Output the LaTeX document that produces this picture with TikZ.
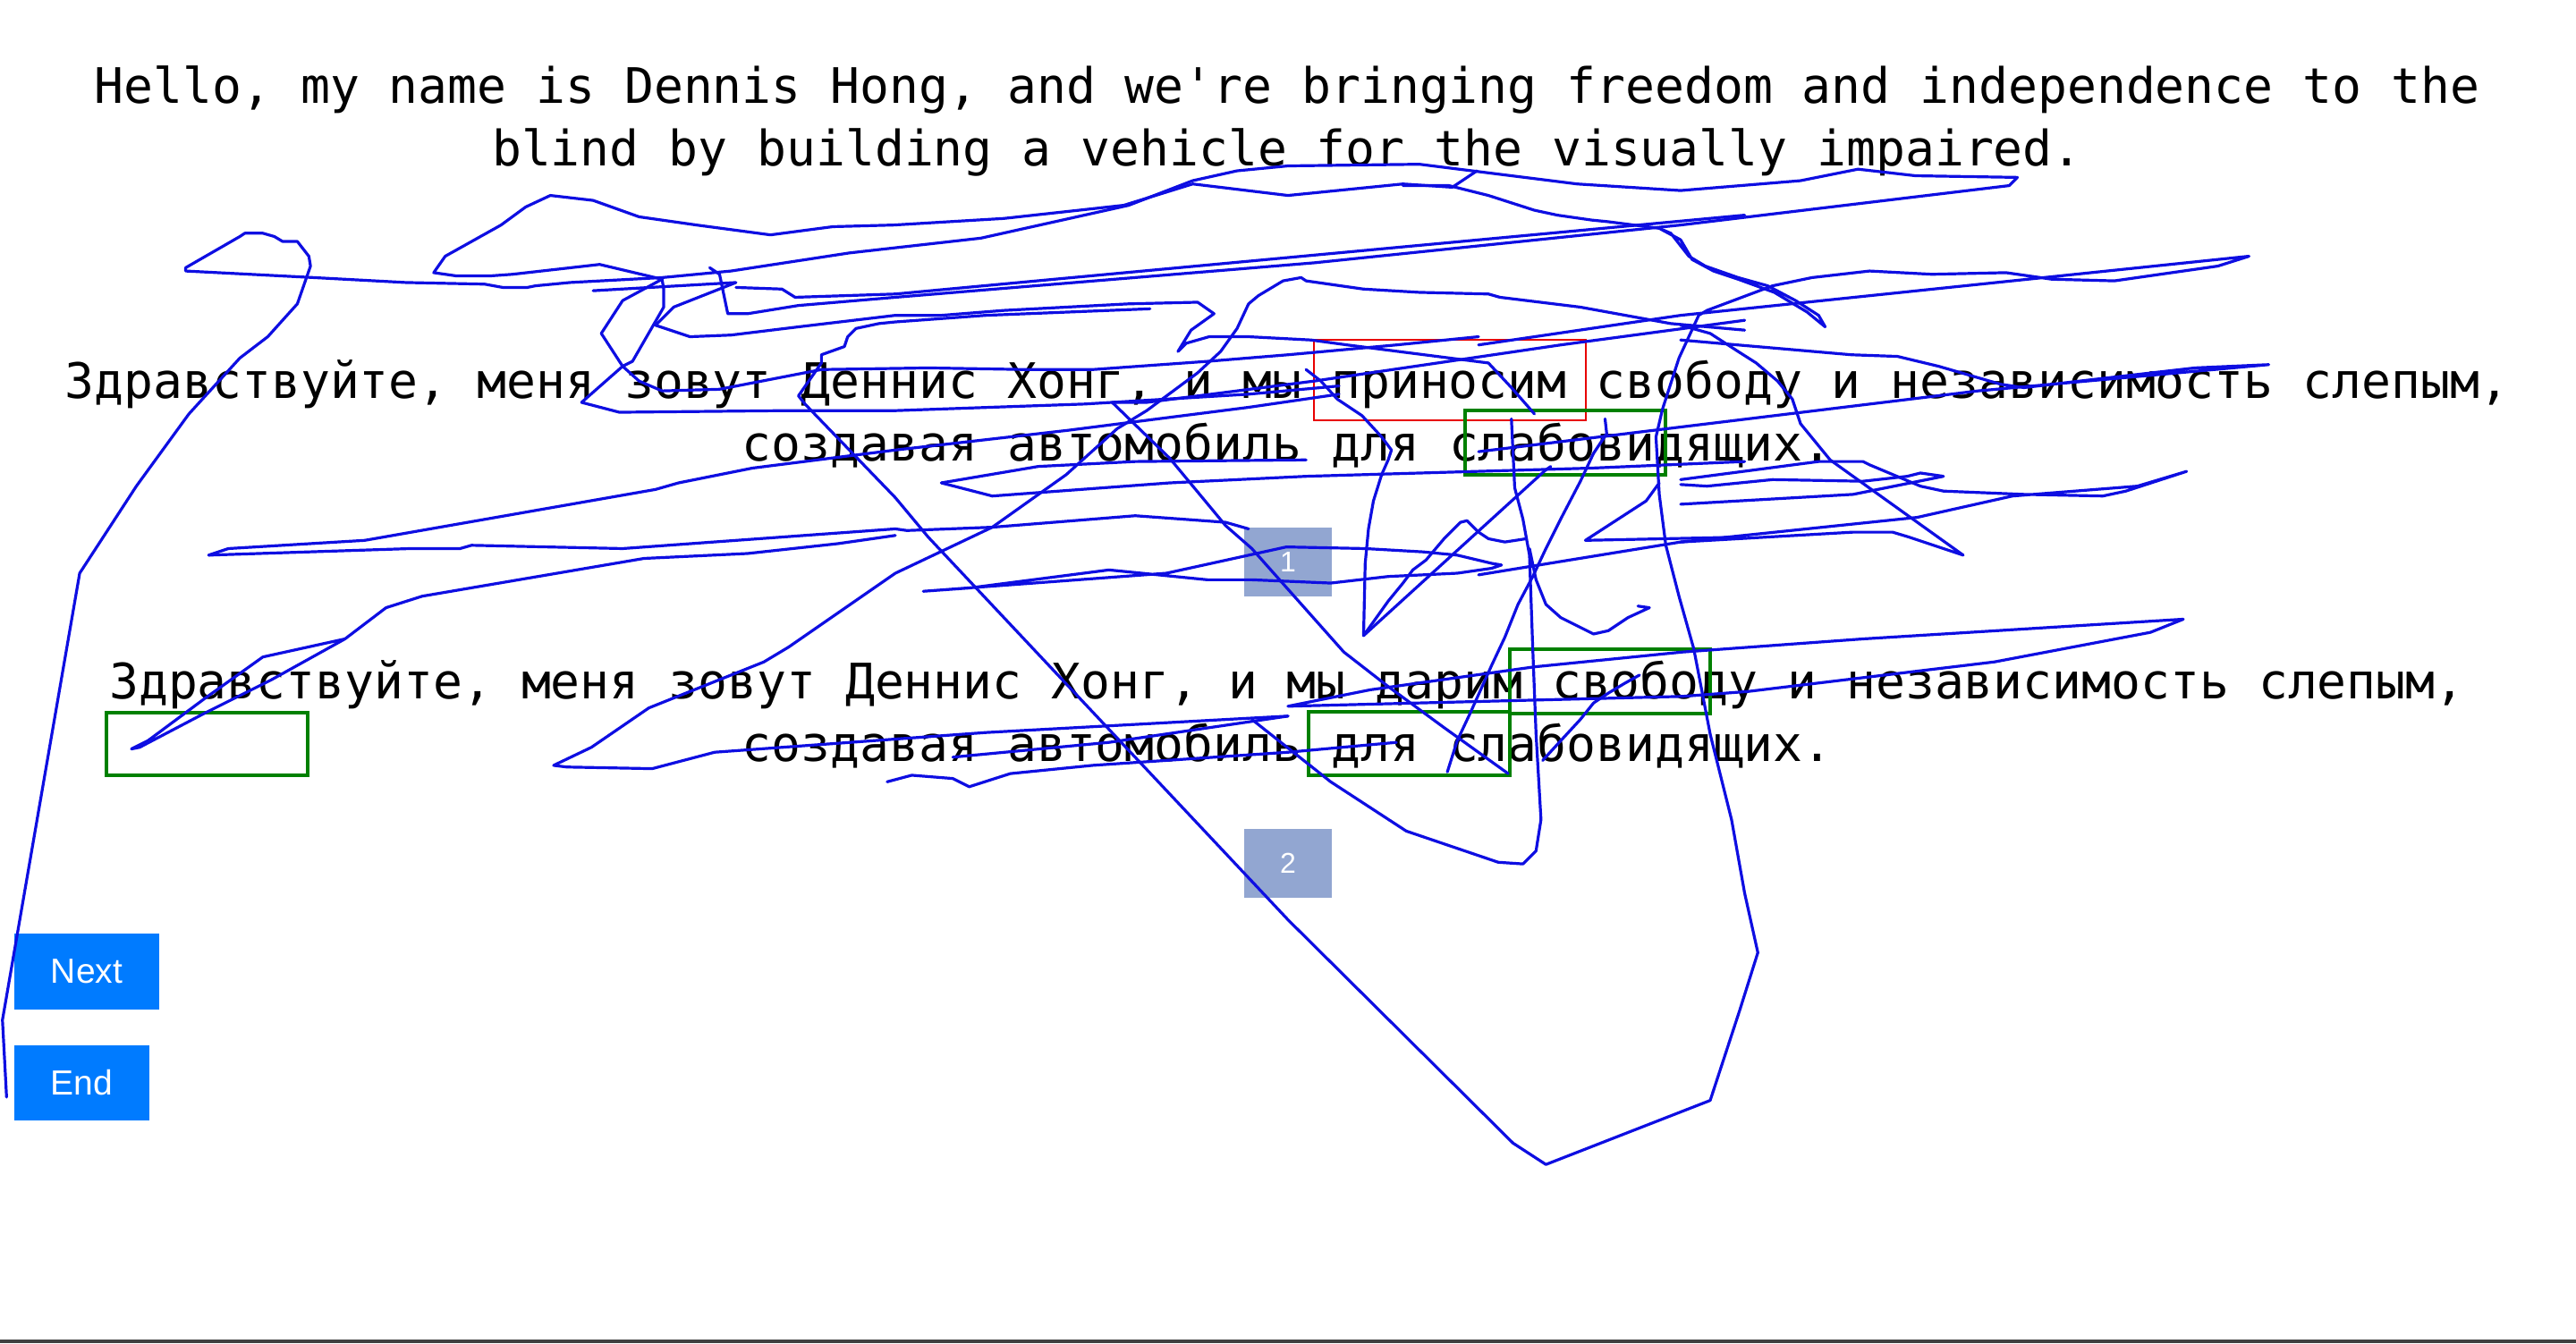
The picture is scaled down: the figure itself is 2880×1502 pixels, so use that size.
\documentclass[tikz,border=0pt]{standalone}
\usepackage{fontspec}
\setmainfont{Liberation Sans}
\setmonofont{DejaVu Sans Mono}
\definecolor{btnblue}{RGB}{0,123,255}
\definecolor{pageblue}{RGB}{146,166,209}
\definecolor{penblue}{RGB}{14,14,226}
\definecolor{markgreen}{RGB}{0,128,0}
\definecolor{markred}{RGB}{232,0,0}
\begin{document}
\begin{tikzpicture}
  [x=0.25pt, y=-0.25pt,
   sentence/.style={inner sep=0pt, anchor=base, font=\ttfamily\fontsize{13.67pt}{16pt}\selectfont},
   red mark/.style={draw=markred, line width=0.5pt},
   green mark/.style={draw=markgreen, line width=1pt},
   nav button/.style={fill=btnblue, text=white, inner sep=0pt, font=\fontsize{9.75pt}{11pt}\selectfont},
   page button/.style={fill=pageblue, text=white, inner sep=0pt, minimum width=24.5pt, minimum height=19.25pt, font=\fontsize{8pt}{9pt}\selectfont},
   pen/.style={draw=penblue, line width=0.8pt, line join=round, line cap=round}]
  \useasboundingbox (0, 0) rectangle (2880, 1502);
  \fill[white] (0, 0) rectangle (2880, 1502);
  \fill[black!75] (0, 1498) rectangle (2880, 1502);
  \frenchspacing
  \node[sentence] (en1) at (1439, 115) {Hello, my name is Dennis Hong, and we're bringing freedom and independence to the};
  \node[sentence] (en2) at (1439, 185) {blind by building a vehicle for the visually impaired.};
  \node[sentence] (ruA1) at (1439, 445) {Здравствуйте, меня зовут Деннис Хонг, и мы приносим свободу и независимость слепым,};
  \node[sentence] (ruA2) at (1439, 515) {создавая автомобиль для слабовидящих.};
  \node[sentence] (ruB1) at (1439, 781) {Здравствуйте, меня зовут Деннис Хонг, и мы дарим свободу и независимость слепым,};
  \node[sentence] (ruB2) at (1439, 851) {создавая автомобиль для слабовидящих.};
  \draw[red mark] (1469, 380) rectangle (1773, 470);
  \draw[green mark] (1638, 459) rectangle (1862, 531);
  \draw[green mark] (1688, 726) rectangle (1912, 798);
  \draw[green mark] (1463, 796) rectangle (1688, 867);
  \draw[green mark] (119, 797) rectangle (344, 867);
  \node[page button] (page1) at (1440, 628.5) {1};
  \node[page button] (page2) at (1440, 965) {2};
  \node[nav button, minimum width=40.5pt, minimum height=21.25pt] (next) at (97, 1086.5) {Next};
  \node[nav button, minimum width=37.75pt, minimum height=21pt] (end) at (91.5, 1211) {End};
  \begin{scope}[scale=1.8367]
    \draw[pen] (4, 668) -- (1.5, 621) -- (48.5, 349) -- (83, 296) -- (115, 252) -- (146, 218) -- (163, 205) -- (181, 185) -- (189, 162) -- (188, 156) -- (181, 147) -- (172, 147) -- (167, 144) -- (160, 142) -- (149, 142) -- (146, 144) -- (113, 163) -- (113, 165) -- (191, 169) -- (247, 172) -- (295, 173) -- (306, 175) -- (321, 175) -- (326, 174) -- (347, 172) -- (403, 169) -- (445, 165) -- (517, 154) -- (597, 145) -- (687, 125) -- (726, 110) -- (753, 104) -- (784, 101) -- (864, 100) -- (896, 104) -- (960, 112) -- (1023, 116) -- (1096, 110) -- (1131, 103) -- (1166, 107) -- (1228, 108) -- (1223, 113) -- (1023, 137) -- (800, 160) -- (545, 181) -- (486, 186) -- (455, 191) -- (443, 191) -- (438, 167) -- (432, 163);
    \draw[pen] (899, 104) -- (884, 114) -- (854, 112) -- (784, 119) -- (726, 112) -- (684, 125) -- (611, 133) -- (544, 137) -- (507, 138) -- (469, 143) -- (424, 137) -- (389, 132) -- (361, 122) -- (335, 119) -- (320, 126) -- (305, 137) -- (271, 156) -- (264, 166) -- (278, 168) -- (298, 168) -- (312, 167) -- (365, 161) -- (403, 170) -- (404, 176) -- (404, 187) -- (385, 220) -- (379, 223) -- (389, 232) -- (403, 238) -- (438, 237) -- (500, 225) -- (565, 224) -- (625, 225) -- (665, 225) -- (735, 220) -- (784, 216) -- (850, 210) -- (900, 205);
    \draw[pen] (403, 170) -- (379, 183) -- (366, 203) -- (379, 223) -- (354, 245) -- (377, 251) -- (479, 250) -- (545, 250) -- (660, 246) -- (760, 240) -- (815, 235);
    \draw[pen] (361, 177) -- (448, 172) -- (410, 187) -- (399, 198) -- (420, 205) -- (445, 204) -- (486, 199) -- (545, 192) -- (573, 192) -- (611, 189) -- (687, 185) -- (729, 184) -- (739, 191) -- (725, 201) -- (717, 214) -- (722, 209) -- (736, 205) -- (760, 205) -- (798, 207) -- (820, 210) -- (906, 221) -- (920, 236) -- (934, 252);
    \draw[pen] (448, 175) -- (476, 176) -- (484, 181) -- (545, 179) -- (1062, 131);
    \draw[pen] (700, 188) -- (600, 192) -- (545, 196) -- (535, 197) -- (521, 200) -- (516, 205) -- (514, 211) -- (500, 216) -- (500, 221) -- (486, 241) -- (490, 246) -- (545, 303) -- (565, 327) -- (784, 560) -- (921, 696) -- (941, 709) -- (1041, 670) -- (1059, 615) -- (1070, 580) -- (1062, 544) -- (1054, 499) -- (1041, 447) -- (1031, 395) -- (1022, 363) -- (1014, 332) -- (1010, 301) -- (1008, 266) -- (1012, 249) -- (1022, 218) -- (1034, 192) -- (1039, 189) -- (1079, 174) -- (1103, 169) -- (1138, 165) -- (1176, 167) -- (1221, 166) -- (1249, 170) -- (1287, 171) -- (1350, 162) -- (1369, 156) -- (1023, 192) -- (900, 210);
    \draw[pen] (854, 113) -- (882, 113) -- (906, 119) -- (934, 128) -- (948, 131) -- (969, 134) -- (979, 135) -- (1010, 139) -- (1017, 142) -- (1028, 156) -- (1038, 162) -- (1058, 169) -- (1076, 174) -- (1093, 183) -- (1107, 192) -- (1111, 199) -- (1100, 190) -- (1080, 178) -- (1058, 170) -- (1043, 165) -- (1030, 158) -- (1023, 146) -- (1010, 139);
    \draw[pen] (1062, 201) -- (1017, 197) -- (962, 187) -- (913, 181) -- (906, 179) -- (864, 178) -- (830, 176) -- (816, 174) -- (795, 171) -- (792, 169) -- (781, 171) -- (766, 180) -- (760, 185) -- (753, 200) -- (743, 214) -- (729, 227) -- (698, 250) -- (680, 261) -- (649, 289) -- (604, 321) -- (545, 349) -- (480, 394) -- (465, 403) -- (395, 431) -- (360, 455) -- (337, 466) -- (345, 467) -- (397, 468) -- (435, 458) -- (600, 446) -- (784, 436);
    \draw[pen] (127, 338) -- (139, 334) -- (222, 329) -- (399, 298) -- (413, 294) -- (458, 285) -- (545, 274) -- (650, 262) -- (760, 248) -- (815, 240);
    \draw[pen] (127, 338) -- (250, 334) -- (280, 334) -- (287, 332) -- (379, 334) -- (545, 322) -- (552, 323) -- (604, 321) -- (691, 314) -- (746, 318) -- (760, 322);
    \draw[pen] (545, 326) -- (510, 331) -- (455, 337) -- (392, 340) -- (257, 363) -- (235, 370) -- (210, 389) -- (165, 414) -- (125, 434) -- (85, 455) -- (80, 456) -- (90, 451) -- (125, 425) -- (160, 400) -- (210, 389);
    \draw[pen] (762, 353) -- (810, 355) -- (845, 351) -- (887, 349) -- (908, 346) -- (914, 344) -- (908, 343) -- (887, 338) -- (866, 336) -- (831, 334) -- (783, 333) -- (710, 349) -- (562, 360) -- (590, 358) -- (675, 347) -- (735, 353) -- (762, 353);
    \draw[pen] (540, 476) -- (555, 472) -- (580, 474) -- (590, 479) -- (615, 471) -- (665, 466) -- (784, 458) -- (850, 452);
    \draw[pen] (580, 461) -- (675, 452) -- (784, 436);
    \draw[pen] (1023, 292) -- (1107, 281) -- (1134, 281) -- (1138, 283) -- (1169, 296) -- (1183, 299) -- (1232, 301) -- (1280, 302) -- (1294, 299) -- (1331, 287) -- (1301, 296) -- (1225, 302) -- (1167, 315) -- (1023, 330) -- (900, 350);
    \draw[pen] (1023, 207) -- (1127, 216) -- (1155, 217) -- (1180, 223) -- (1218, 234) -- (1232, 236) -- (1266, 232) -- (1336, 224) -- (1381, 222) -- (1204, 238) -- (1023, 260) -- (900, 275);
    \draw[pen] (1023, 198) -- (1041, 203) -- (1058, 214) -- (1069, 221) -- (1082, 232) -- (1091, 243) -- (1096, 258) -- (1114, 280) -- (1195, 338) -- (1183, 334) -- (1162, 327) -- (1152, 324) -- (1128, 324) -- (1023, 330);
    \draw[pen] (1023, 295) -- (1039, 296) -- (1079, 292) -- (1134, 293) -- (1161, 290) -- (1169, 288) -- (1183, 290) -- (1128, 301) -- (1023, 307);
    \draw[pen] (784, 430) -- (1024, 424) -- (1064, 421) -- (1214, 403) -- (1309, 385) -- (1329, 377) -- (1134, 389) -- (1024, 397) -- (934, 406) -- (834, 420) -- (784, 430);
    \draw[pen] (795, 225) -- (804, 232) -- (814, 243) -- (829, 253) -- (841, 266) -- (847, 274) -- (845, 280) -- (841, 289) -- (836, 305) -- (833, 322) -- (831, 343) -- (830, 387) -- (845, 366) -- (854, 355) -- (860, 347) -- (868, 341) -- (879, 328) -- (889, 318) -- (893, 317) -- (900, 324) -- (906, 328) -- (916, 330) -- (929, 328);
    \draw[pen] (830, 387) -- (941, 286) -- (944, 284);
    \draw[pen] (762, 438) -- (810, 476) -- (856, 506) -- (912, 525) -- (927, 526) -- (935, 518) -- (938, 499) -- (935, 447) -- (933, 395) -- (931, 338) -- (927, 316) -- (922, 297) -- (920, 255);
    \draw[pen] (931, 334) -- (935, 353) -- (941, 368) -- (950, 376) -- (962, 382) -- (970, 386) -- (979, 384) -- (991, 376) -- (1004, 370) -- (997, 369);
    \draw[pen] (677, 245) -- (712, 279) -- (746, 320) -- (762, 334) -- (818, 397) -- (845, 418) -- (879, 443) -- (918, 471);
    \draw[pen] (677, 245) -- (698, 245) -- (800, 232) -- (950, 210) -- (1062, 195);
    \draw[pen] (977, 255) -- (978, 264) -- (970, 276) -- (962, 293) -- (950, 316) -- (941, 334) -- (933, 351) -- (924, 368) -- (916, 388) -- (908, 405) -- (895, 434) -- (887, 451) -- (881, 470);
    \draw[pen] (939, 463) -- (950, 451) -- (962, 438) -- (970, 428) -- (979, 422) -- (989, 416) -- (998, 411);
    \draw[pen] (1010, 294) -- (1002, 305) -- (965, 329) -- (1062, 327);
    \draw[pen] (573, 294) -- (604, 302) -- (712, 294) -- (795, 290) -- (899, 287) -- (969, 285) -- (1062, 281);
    \draw[pen] (573, 294) -- (632, 284) -- (691, 281) -- (795, 280);
  \end{scope}
\end{tikzpicture}
\end{document}
